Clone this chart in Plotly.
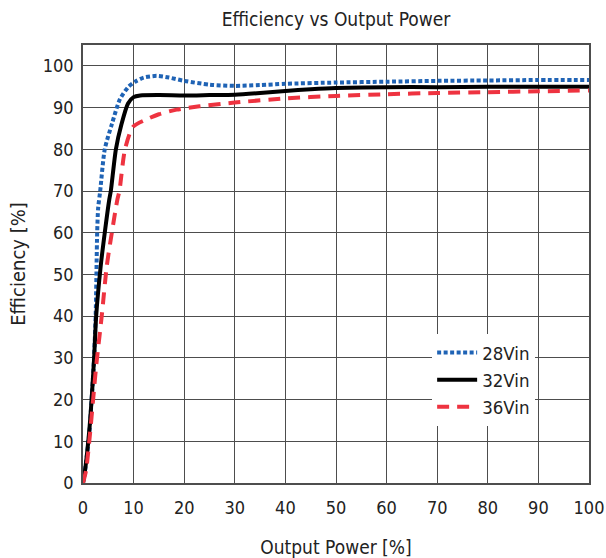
import plotly.graph_objects as go

# ---- data ----
x28 = [0, 0.4, 1.25, 1.7, 2.1, 2.5, 2.8, 3.0, 3.4, 4.3, 5.7, 7.3, 9.0, 10.3, 12.0, 14.6, 17, 20, 25, 30, 35, 40, 50, 60, 70, 80, 90, 100]
y28 = [0, 3, 12, 20, 28, 40, 60, 66, 70, 80, 86, 92, 95, 96.2, 97.2, 97.6, 97.2, 96.4, 95.5, 95.2, 95.4, 95.7, 96.0, 96.2, 96.4, 96.5, 96.6, 96.6]

x32 = [0, 0.4, 1.2, 1.7, 2.2, 2.6, 3.5, 4.3, 5.2, 5.5, 6.5, 7.6, 8.9, 10.0, 11.3, 15, 20, 25, 30, 35, 40, 45, 50, 60, 70, 80, 90, 100]
y32 = [0, 3, 12, 20, 30, 40, 52, 60, 68, 70, 80, 86, 91, 92.5, 92.9, 93.0, 92.9, 93.0, 93.1, 93.5, 94.0, 94.4, 94.7, 94.9, 94.9, 95.0, 95.0, 95.0]

x36 = [0, 0.6, 1.4, 2.0, 2.6, 3.7, 4.7, 5.7, 6.8, 7.2, 8.3, 9.9, 12.6, 15, 18.5, 23, 30, 40, 50, 60, 70, 80, 90, 100]
y36 = [0, 3, 12, 20, 28, 40, 52, 60, 68, 70, 80, 85.4, 87.2, 88.4, 89.5, 90.3, 91.2, 92.2, 92.8, 93.2, 93.5, 93.7, 93.9, 94.1]

xticks = list(range(0, 101, 10))
yticks = list(range(0, 101, 10))

FONT = "DejaVu Sans Condensed, Liberation Sans Narrow, sans-serif"

fig = go.Figure()
fig.add_trace(go.Scatter(x=x28, y=y28, mode="lines", name="28Vin",
                         line=dict(color="#1f63b5", width=4, dash="4px,2.5px", shape="spline", smoothing=0.7)))
fig.add_trace(go.Scatter(x=x32, y=y32, mode="lines", name="32Vin",
                         line=dict(color="#000000", width=4, shape="spline", smoothing=0.7)))
fig.add_trace(go.Scatter(x=x36, y=y36, mode="lines", name="36Vin",
                         line=dict(color="#ee3340", width=4, dash="12px,8px", shape="spline", smoothing=0.7)))

axis_common = dict(showgrid=True, gridcolor="#4d4d4d", gridwidth=1, zeroline=False,
                   showline=True, linecolor="#4d4d4d", linewidth=1.5, mirror=True,
                   ticks="outside", tickcolor="rgba(0,0,0,0)", automargin=False,
                   tickfont=dict(family=FONT, size=18, color="#222"))

fig.update_xaxes(range=[0, 100], tickvals=xticks, ticktext=[str(v) for v in xticks], ticklen=8,
                 title=dict(text="Output Power [%]", font=dict(family=FONT, size=19, color="#222"), standoff=26),
                 **axis_common)
fig.update_yaxes(range=[0, 105], tickvals=yticks, ticktext=[str(v) for v in yticks], ticklen=4,
                 title=dict(text="Efficiency [%]", font=dict(family=FONT, size=20, color="#222"), standoff=12),
                 **axis_common)

fig.update_layout(
    width=606, height=558,
    margin=dict(l=83, r=17, t=45, b=75),
    paper_bgcolor="white", plot_bgcolor="white",
    title=dict(text="Efficiency vs Output Power", x=0.5, xref="paper", xanchor="center",
               y=1, yref="container", yanchor="top", pad=dict(t=13),
               font=dict(family=FONT, size=19, color="#222")),
    legend=dict(x=0.69, y=0.34, xanchor="left", yanchor="top", bgcolor="white",
                borderwidth=0, font=dict(family=FONT, size=18.5, color="#222"),
                itemwidth=40, tracegroupgap=0),
    showlegend=True,
)

fig.write_html("out.html")
